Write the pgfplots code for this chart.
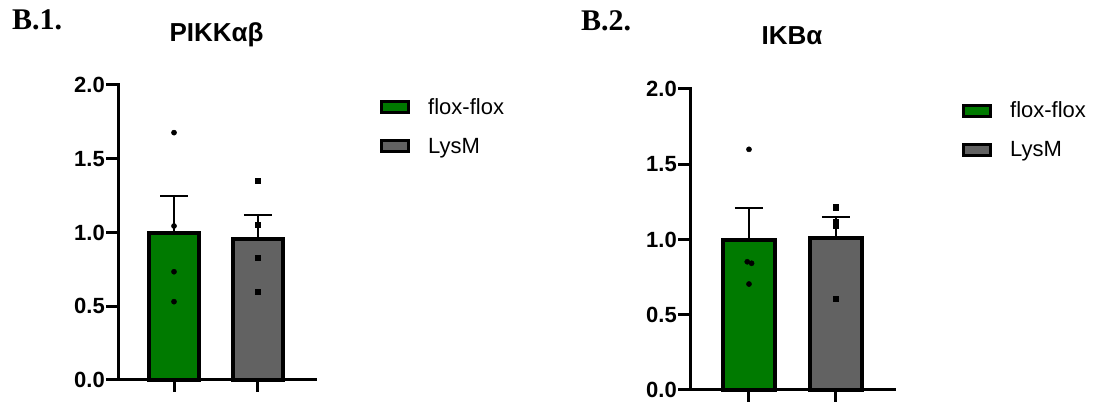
\documentclass[border=0pt]{standalone}
\usepackage{pgfplots}
\pgfplotsset{compat=1.18}
\usepackage{fontspec}
\setmainfont{Liberation Sans}
\newfontfamily\serifb{Liberation Serif}
\definecolor{ggreen}{RGB}{0,122,0}
\definecolor{ggrey}{RGB}{98,98,98}
\pgfplotsset{
  gp/.style={
    scale only axis,
    anchor=south west,
    axis x line*=bottom, axis y line*=left,
    axis line style={line width=3pt, line cap=rect},
    ymin=0, ymax=2,
    ytick={0,0.5,1,1.5,2},
    xtick={1,2}, xticklabels={,},
    tick align=outside,
    major tick length=12pt,
    tick style={line width=3pt, black},
    yticklabel style={font=\fontsize{22}{26}\selectfont\bfseries, inner sep=1pt},
    /pgf/number format/.cd, fixed, fixed zerofill, precision=1, assume math mode=true,
    /pgfplots/.cd,
    clip=false,
    title style={font=\fontsize{26}{30}\selectfont\bfseries, anchor=base},
    legend style={draw=none, fill=none, inner sep=0pt, anchor=west,
      font=\fontsize{22}{26}\selectfont, row sep=18pt,
      /tikz/every odd column/.append style={column sep=16pt}},
    legend cell align=left,
  },
  bar/.style={ybar, bar shift=0pt, bar width=0.59, draw=black, line width=4pt, fill=#1, forget plot,
     error bars/.cd, y dir=plus, y explicit,
     error bar style={line width=2pt, black},
     error mark options={rotate=90, line width=2pt, mark size=14pt, black},
     /pgfplots/.cd},
}
\begin{document}
\begin{tikzpicture}[x=1pt,y=1pt]
\path[use as bounding box] (0,0) rectangle (1101,403);
\node[anchor=base west, inner sep=0pt, font=\serifb\fontsize{30}{34}\selectfont\bfseries] at (12,373) {B.1.};
\node[anchor=base west, inner sep=0pt, font=\serifb\fontsize{30}{34}\selectfont\bfseries] at (581,372) {B.2.};
% Panel 1
\begin{axis}[gp, at={(118pt,23pt)}, width=197pt, height=295pt,
  xmin=0.333, xmax=2.679,
  title={PIKKαβ}, title style={at={(0.5,1)}, yshift=37pt},
  legend style={at={(axis description cs:1.33,0.859)}}]
\addlegendimage{legend image code/.code={\draw[line width=3pt, fill=ggreen] (0pt,-5.5pt) rectangle (27pt,5.5pt);}}
\addlegendentry{flox-flox}
\addlegendimage{legend image code/.code={\draw[line width=3pt, fill=ggrey] (0pt,-5.5pt) rectangle (27pt,5.5pt);}}
\addlegendentry{LysM}
\addplot[bar=ggreen] coordinates {(1,0.997) +- (0,0.25)};
\addplot[bar=ggrey] coordinates {(2,0.957) +- (0,0.162)};
\addplot[only marks, mark=*, mark size=2.6pt, black, forget plot] coordinates {(1,1.677) (1,1.044) (1,0.734) (1,0.531)};
\addplot[only marks, mark=square*, mark size=2.6pt, black, forget plot] coordinates {(2,1.351) (2,1.051) (2,0.829) (2,0.599)};
\end{axis}
% Panel 2
\begin{axis}[gp, at={(690pt,13pt)}, width=204pt, height=301pt,
  xmin=0.322, xmax=2.667,
  title={IKBα}, title style={at={(0.5,1)}, yshift=38pt},
  legend style={at={(axis description cs:1.333,0.864)}}]
\addlegendimage{legend image code/.code={\draw[line width=3pt, fill=ggreen] (0pt,-5.5pt) rectangle (27pt,5.5pt);}}
\addlegendentry{flox-flox}
\addlegendimage{legend image code/.code={\draw[line width=3pt, fill=ggrey] (0pt,-5.5pt) rectangle (27pt,5.5pt);}}
\addlegendentry{LysM}
\addplot[bar=ggreen] coordinates {(1,0.999) +- (0,0.208)};
\addplot[bar=ggrey] coordinates {(2,1.007) +- (0,0.145)};
\addplot[only marks, mark=*, mark size=2.6pt, black, forget plot] coordinates {(1,1.599) (0.98,0.852) (1.03,0.842) (1,0.704)};
\addplot[only marks, mark=square*, mark size=2.6pt, black, forget plot] coordinates {(2,1.214) (2,1.118) (2,1.092) (2,0.605)};
\end{axis}
\end{tikzpicture}
\end{document}
